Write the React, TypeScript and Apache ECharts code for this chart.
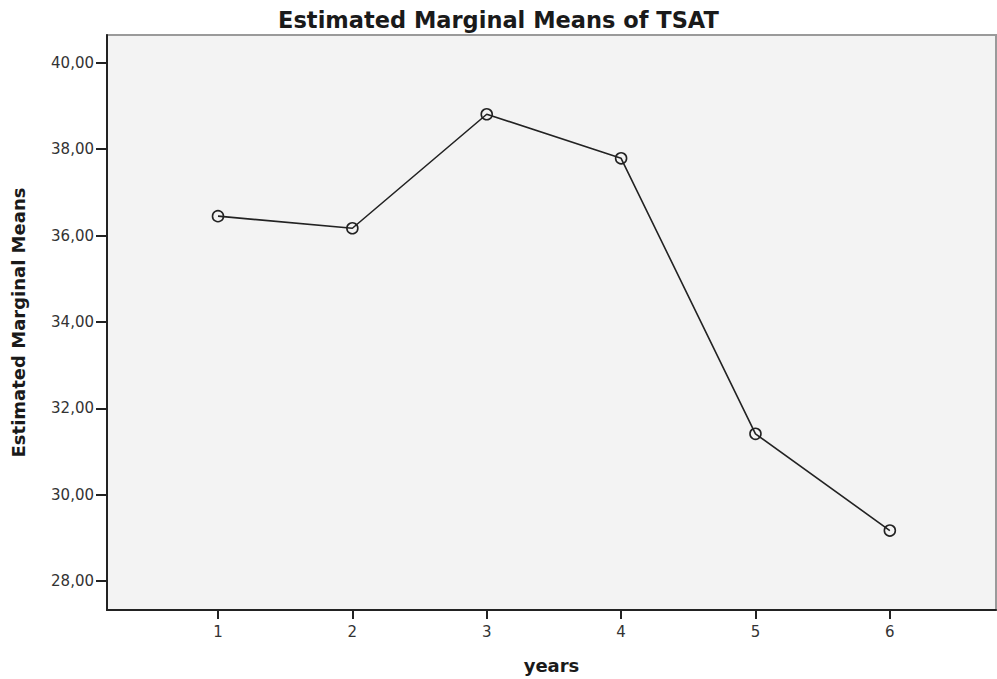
import React, { useEffect, useRef } from "react";
import * as echarts from "echarts";

const years = [1, 2, 3, 4, 5, 6];
const means = [36.45, 36.17, 38.81, 37.79, 31.41, 29.17];
const yTicks = [28, 30, 32, 34, 36, 38, 40];
const xTicks = [1, 2, 3, 4, 5, 6];

export default function App() {
  const ref = useRef<HTMLDivElement>(null);
  useEffect(() => {
    document.body.style.margin = "0";
    const chart = echarts.init(ref.current!, null, { renderer: "svg" });
    chart.setOption({
      animation: false,
      backgroundColor: "#ffffff",
      title: {
        text: "Estimated Marginal Means of TSAT",
        left: "center",
        top: 3,
        textStyle: { fontFamily: "DejaVu Sans", fontWeight: "bold", fontSize: 22.5, color: "#1a1a1a" },
      },
      grid: {
        left: 107,
        right: 1,
        top: 35,
        bottom: 66,
        show: true,
        backgroundColor: "#f3f3f3",
        borderColor: "#9a9a9a",
        borderWidth: 2,
      },
      xAxis: {
        type: "value",
        min: 0.174,
        max: 6.79,
        name: "years",
        nameLocation: "middle",
        nameGap: 46,
        nameTextStyle: { fontFamily: "DejaVu Sans", fontWeight: "bold", fontSize: 18, color: "#1a1a1a" },
        axisLine: { show: true, lineStyle: { color: "#222", width: 2 } },
        axisTick: { show: true, length: 9, lineStyle: { color: "#222", width: 2 }, customValues: xTicks },
        axisLabel: {
          fontFamily: "DejaVu Sans",
          fontSize: 15,
          color: "#333",
          margin: 14,
          customValues: xTicks,
          formatter: (v: number) => String(v),
        },
        splitLine: { show: false },
      },
      yAxis: {
        type: "value",
        min: 27.33,
        max: 40.645,
        name: "Estimated Marginal Means",
        nameLocation: "middle",
        nameGap: 80,
        nameTextStyle: { fontFamily: "DejaVu Sans", fontWeight: "bold", fontSize: 18, color: "#1a1a1a" },
        axisLine: { show: true, lineStyle: { color: "#222", width: 2 } },
        axisTick: { show: true, length: 11, lineStyle: { color: "#222", width: 2 }, customValues: yTicks },
        axisLabel: {
          fontFamily: "DejaVu Sans",
          fontSize: 15,
          color: "#333",
          margin: 13,
          customValues: yTicks,
          formatter: (v: number) => v.toFixed(2).replace(".", ","),
        },
        splitLine: { show: false },
      },
      series: [
        {
          type: "line",
          data: years.map((x, i) => [x, means[i]]),
          symbol: "circle",
          symbolSize: 11,
          lineStyle: { color: "#222", width: 1.6 },
          itemStyle: { color: "transparent", borderColor: "#222", borderWidth: 1.6 },
        },
      ],
    });
    return () => chart.dispose();
  }, []);
  return <div ref={ref} style={{ width: 997, height: 679 }} />;
}
